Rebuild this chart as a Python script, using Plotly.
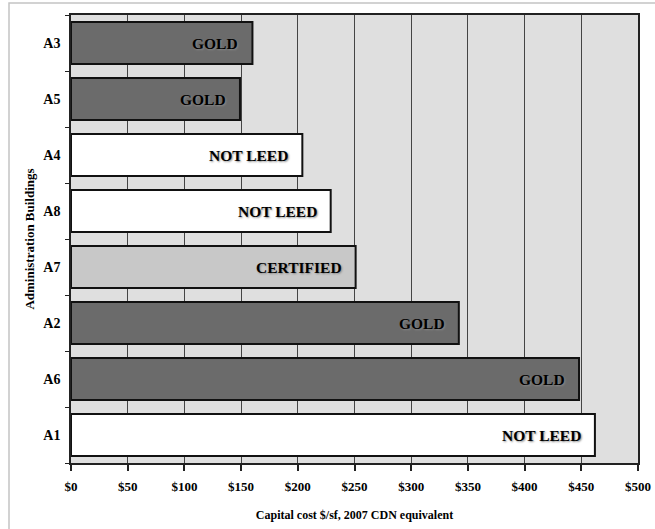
import plotly.graph_objects as go

# Capital cost per square foot of administration buildings (2007 CDN $)
buildings = ["A3", "A5", "A4", "A8", "A7", "A2", "A6", "A1"]
cost = [160, 149, 204, 229, 251, 342, 448, 462]
rating = ["GOLD", "GOLD", "NOT LEED", "NOT LEED", "CERTIFIED", "GOLD", "GOLD", "NOT LEED"]

rating_colors = {"GOLD": "#6b6b6b", "NOT LEED": "#ffffff", "CERTIFIED": "#c8c8c8"}

x_tickvals = [0, 50, 100, 150, 200, 250, 300, 350, 400, 450, 500]
x_ticktext = ["$0", "$50", "$100", "$150", "$200", "$250", "$300", "$350", "$400", "$450", "$500"]

serif = "Liberation Serif, Times New Roman, serif"

fig = go.Figure()
fig.add_trace(go.Bar(
    x=cost,
    y=buildings,
    orientation="h",
    marker=dict(color=[rating_colors[r] for r in rating], line=dict(color="#111111", width=2)),
    width=0.75,
    hoverinfo="x+y",
))

for b, c, r in zip(buildings, cost, rating):
    fig.add_annotation(
        x=c, y=b, text=f"<b>{r}</b>", showarrow=False,
        xanchor="right", yanchor="middle", xshift=-12,
        font=dict(family=serif, size=15.5, color="#000000", shadow="1px 1px 2px #8a8a8a"),
    )

W, H = 655, 529
L, R, T, B = 71, 17, 15, 66
pw, ph = W - L - R, H - T - B

# light outer frame around the whole chart
fig.add_shape(
    type="rect", xref="paper", yref="paper",
    x0=(9 - L) / pw, x1=(W + 5 - L) / pw,
    y0=(H - B - (H + 5)) / ph, y1=(H - B - 3) / ph,
    line=dict(color="#c4c4c4", width=1.5), fillcolor="rgba(0,0,0,0)", layer="below",
)

fig.update_layout(
    width=W, height=H,
    margin=dict(l=L, r=R, t=T, b=B, autoexpand=False),
    paper_bgcolor="#ffffff",
    plot_bgcolor="#dfdfdf",
    showlegend=False,
    bargap=0.25,
    font=dict(family=serif, color="#000000"),
    xaxis=dict(
        range=[0, 500],
        automargin=False,
        tickvals=x_tickvals, ticktext=[f"<b>{t}</b>" for t in x_ticktext],
        tickfont=dict(size=13, family=serif),
        ticklabelstandoff=4,
        showgrid=True, gridcolor="#444444", gridwidth=1,
        zeroline=False,
        showline=True, linecolor="#222222", linewidth=2, mirror=True,
        ticks="outside", ticklen=6, tickcolor="#222222", tickwidth=1.5,
        title=dict(text="<b>Capital cost $/sf, 2007 CDN equivalent</b>",
                   font=dict(size=12, family=serif), standoff=18),
    ),
    yaxis=dict(
        autorange="reversed",
        type="category",
        automargin=False,
        tickson="boundaries",
        tickfont=dict(size=14, family=serif),
        ticktext=[f"<b>{b}</b>" for b in buildings], tickvals=buildings,
        ticklabelstandoff=6,
        showgrid=False,
        showline=True, linecolor="#222222", linewidth=1.5, mirror=True,
        ticks="outside", ticklen=4, tickcolor="#222222",
        title=dict(text="<b>Administration Buildings</b>",
                   font=dict(size=13, family=serif), standoff=6),
    ),
)

fig.write_html("out.html")
